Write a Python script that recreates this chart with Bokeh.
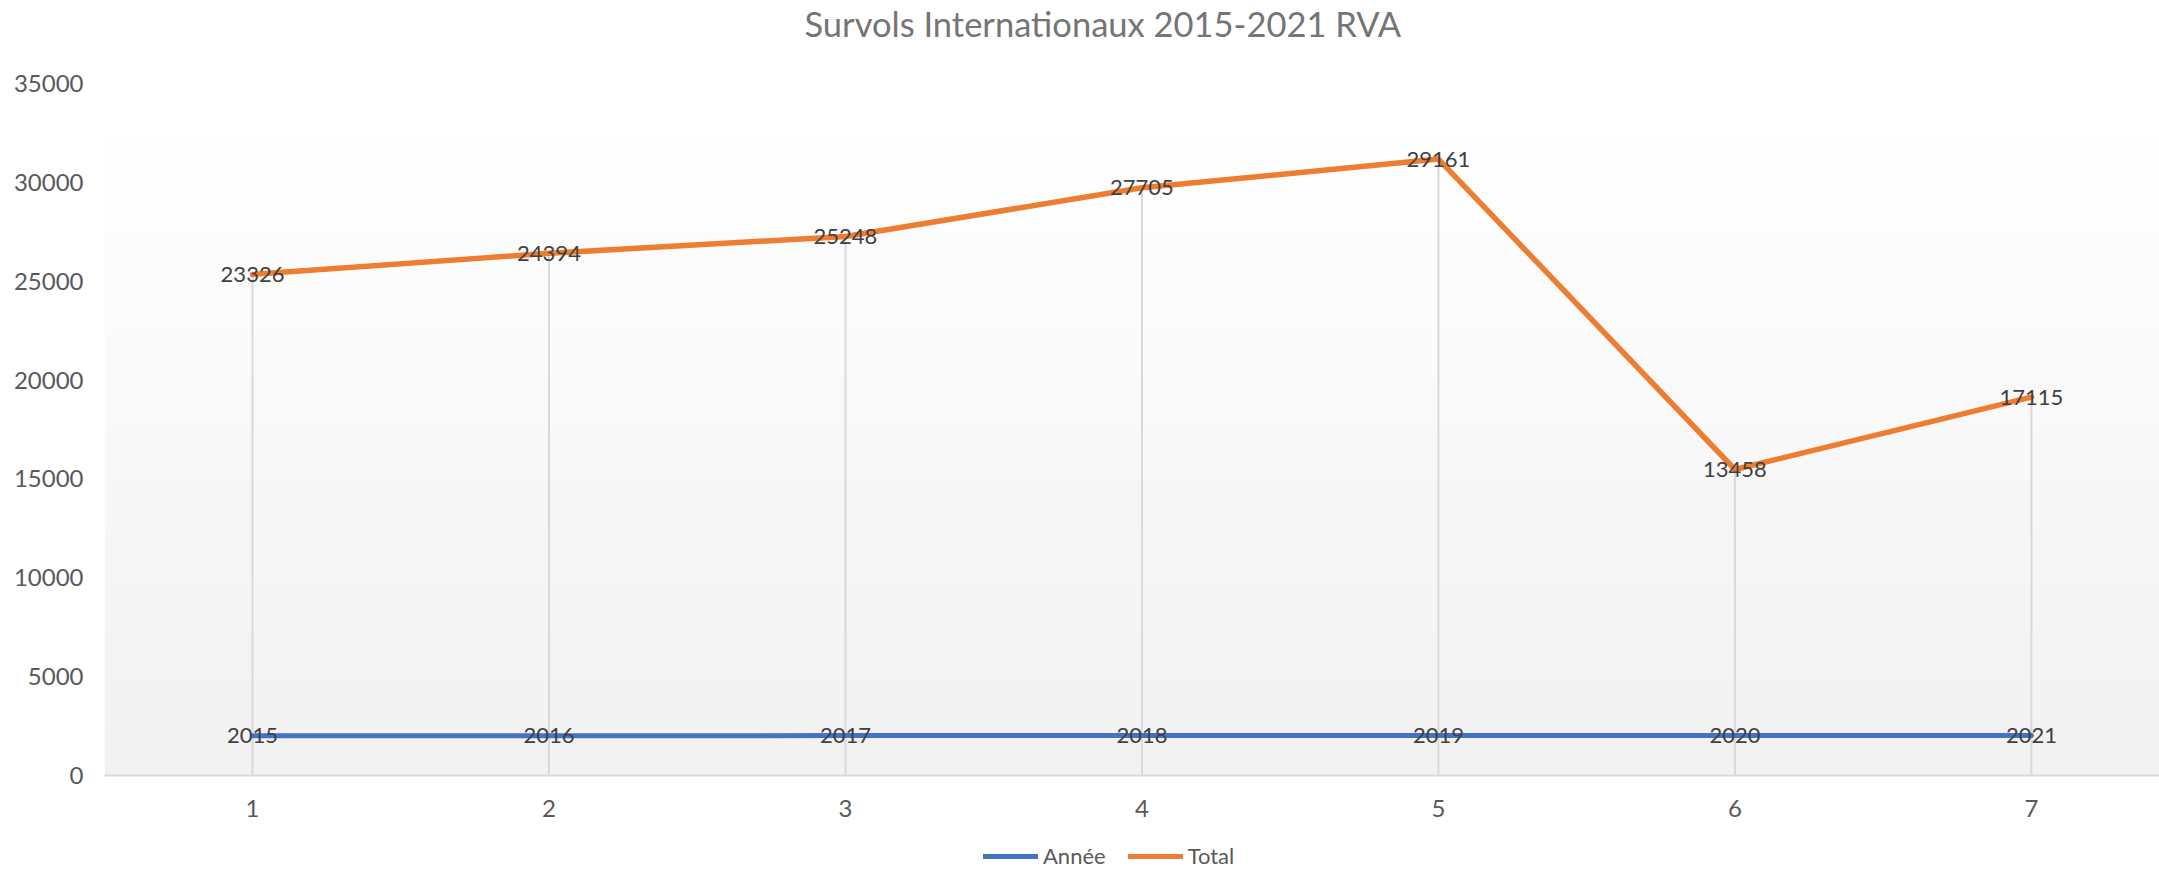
from bokeh.plotting import figure
from bokeh.layouts import column
from bokeh.models import (Range1d, FixedTicker, Legend, LegendItem, BoxAnnotation,
                          ColumnDataSource, Title)
from bokeh.core.properties import value
from bokeh.embed import file_html
from bokeh.resources import INLINE

# ---- data ----
categories = [1, 2, 3, 4, 5, 6, 7]
annee = [2015, 2016, 2017, 2018, 2019, 2020, 2021]
total = [23326, 24394, 25248, 27705, 29161, 13458, 17115]
y_ticks = [0, 5000, 10000, 15000, 20000, 25000, 30000, 35000]
series_names = ["Année", "Total"]
title_text = "Survols Internationaux 2015-2021 RVA"

# stacked line chart: Total is drawn on top of Année
total_stacked = [a + t for a, t in zip(annee, total)]

FONT = "Lato"
BLUE = "#4472C4"
ORANGE = "#ED7D31"

p = figure(frame_width=2055, frame_height=692, output_backend="svg",
           toolbar_location=None, title=None,
           x_range=Range1d(0.5008, 7.432), y_range=Range1d(0, 35000),
           min_border_left=104, min_border_right=0, min_border_top=0,
           min_border_bottom=66)
p.outline_line_color = None
p.grid.visible = False
p.background_fill_color = "white"
p.border_fill_color = "white"

# spacer between frame and title, then the title itself
p.add_layout(Title(text=" ", text_font_size="10px", standoff=27), "above")
p.add_layout(Title(text=title_text, align="left", offset=700, standoff=0,
                   text_font=FONT, text_font_size="34.5px", text_font_style="normal",
                   text_color="#757575"), "above")

# gradient plot-area background (white at top -> #f2f2f2 at bottom)
N = 14
ymax = y_ticks[-1]
for i in range(N):
    frac = (i + 0.5) / N
    c = int(round(242 + (255 - 242) * frac))
    col = "#%02x%02x%02x" % (c, c, c)
    p.add_layout(BoxAnnotation(bottom=ymax * i / N, top=ymax * (i + 1) / N,
                               fill_color=col, fill_alpha=1.0, line_alpha=0,
                               level="underlay"))

# drop lines
p.segment(x0=categories, y0=[0] * len(categories), x1=categories, y1=total_stacked,
          line_color="#d9d9d9", line_width=2)

p.line(categories, annee, line_color=BLUE, line_width=5,
       line_join="round", line_cap="round")
p.line(categories, total_stacked, line_color=ORANGE, line_width=5.5,
       line_join="round", line_cap="round")

# data labels
src_a = ColumnDataSource(dict(x=categories, y=annee, t=[str(v) for v in annee]))
src_t = ColumnDataSource(dict(x=categories, y=total_stacked, t=[str(v) for v in total]))
for src in (src_a, src_t):
    p.text(x="x", y="y", text="t", source=src, text_align="center",
           text_baseline="middle", text_font=value(FONT), text_font_size="22px",
           text_color="#404040")

# axes
p.xaxis.ticker = FixedTicker(ticks=categories)
p.yaxis.ticker = FixedTicker(ticks=y_ticks)
for ax in (p.xaxis[0], p.yaxis[0]):
    ax.major_tick_line_color = None
    ax.minor_tick_line_color = None
    ax.major_label_text_font = FONT
    ax.major_label_text_font_size = "24px"
    ax.major_label_text_color = "#595959"
p.yaxis.axis_line_color = None
p.yaxis.major_label_standoff = 15
p.xaxis.axis_line_color = "#d9d9d9"
p.xaxis.axis_line_width = 2
p.xaxis.major_label_standoff = 18

# legend strip below the chart (proxy lines lie outside its visible range)
pl = figure(width=2159, height=30, output_backend="svg", toolbar_location=None,
            x_range=Range1d(0, 1), y_range=Range1d(0, 1),
            min_border=0, title=None)
pl.axis.visible = False
pl.grid.visible = False
pl.outline_line_color = None
pl.border_fill_color = "white"
pl.background_fill_color = "white"
lr_a = pl.line(x=[-5, -4], y=[-5, -5], line_color=BLUE, line_width=5, line_cap="round")
lr_t = pl.line(x=[-5, -4], y=[-5, -5], line_color=ORANGE, line_width=5, line_cap="round")
legend = Legend(items=[LegendItem(label=series_names[0], renderers=[lr_a]),
                       LegendItem(label=series_names[1], renderers=[lr_t])],
                orientation="horizontal", location=(879, 2),
                background_fill_alpha=0, border_line_alpha=0, padding=0, margin=0,
                glyph_width=55, glyph_height=20, label_standoff=5, spacing=22,
                label_text_font=FONT, label_text_font_size="22px",
                label_text_color="#595959")
pl.add_layout(legend, "center")

layout = column(p, pl, spacing=0)
open("out.html", "w").write(file_html(layout, INLINE))
